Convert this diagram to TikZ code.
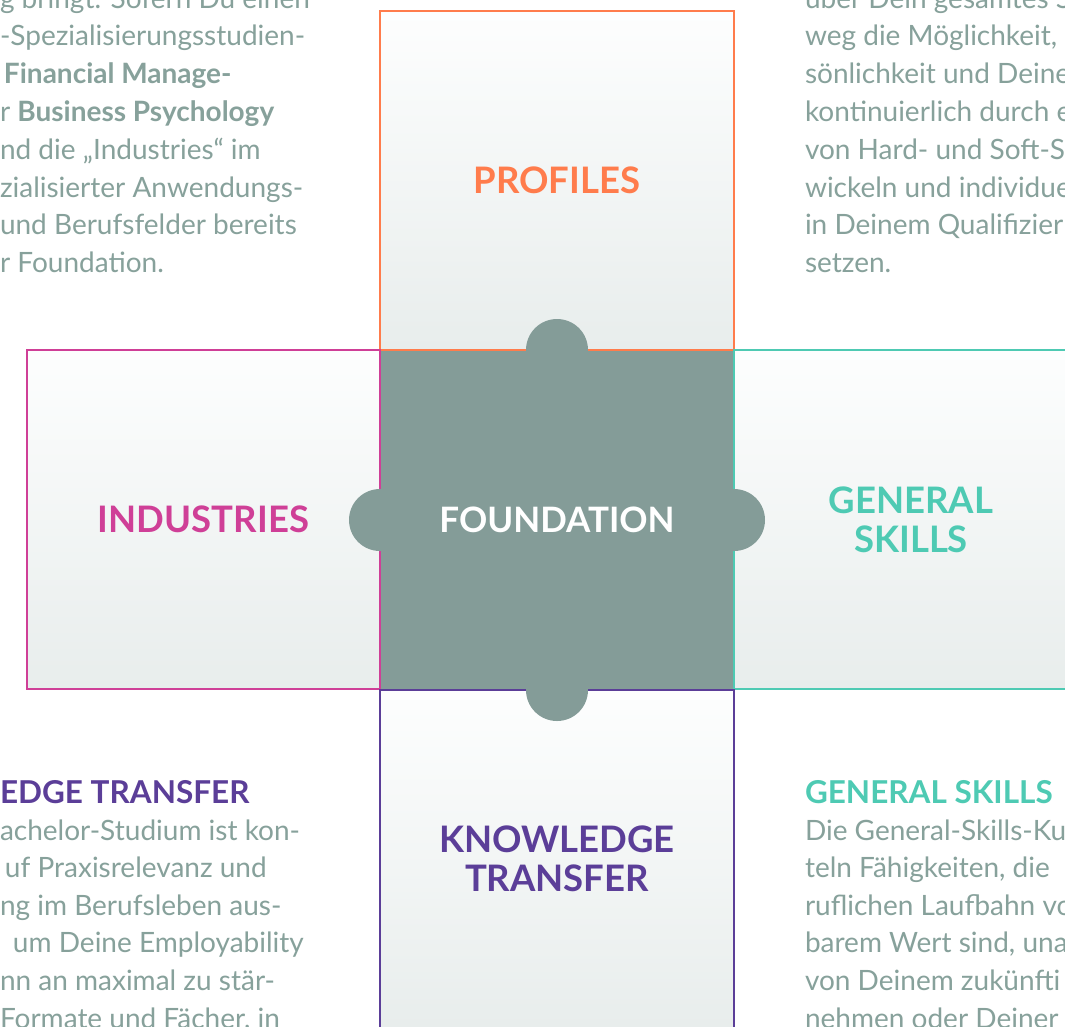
\documentclass[tikz,border=0pt]{standalone}
\usepackage{fontspec}
\setmainfont{Lato}
\definecolor{corange}{HTML}{FF7C4C}
\definecolor{cmagenta}{HTML}{CF3F97}
\definecolor{cteal}{HTML}{4ECAB3}
\definecolor{cpurple}{HTML}{5B3E98}
\definecolor{cfound}{HTML}{849C98}
\definecolor{ctext}{HTML}{87A19B}
\definecolor{gtop}{HTML}{FDFEFE}
\definecolor{gbot}{HTML}{E8EDEC}
\tikzset{
  box/.style={rectangle, inner sep=0pt, outer sep=0pt, line width=2.5pt,
    top color=gtop, bottom color=gbot, align=center,
    font=\fontsize{36.5}{39}\selectfont\bfseries},
  bodyline/.style={inner sep=0pt, outer sep=0pt, anchor=base west, text=ctext,
    font=\fontsize{28}{30}\selectfont},
  headline/.style={inner sep=0pt, outer sep=0pt, anchor=base west,
    font=\fontsize{31.5}{34}\selectfont\bfseries},
}
\begin{document}
\begin{tikzpicture}[x=1pt,y=-1pt]
\useasboundingbox (0,0) rectangle (1065,1026);
\fill[white] (0,0) rectangle (1065,1026);
\begin{scope}
\clip (0,0) rectangle (1065,1026);
% boxes
\node[box, draw=corange, text=corange, minimum width=354pt, minimum height=339pt] (profiles) at (557,180.5) {PROFILES};
\node[box, draw=cmagenta, text=cmagenta, minimum width=353pt, minimum height=339pt] (industries) at (203.5,519.5) {INDUSTRIES};
\node[box, draw=cteal, text=cteal, minimum width=354pt, minimum height=339pt] (skills) at (911,519.5) {GENERAL\\SKILLS};
\node[box, draw=cpurple, text=cpurple, minimum width=354pt, minimum height=338pt] (transfer) at (557,859) {KNOWLEDGE\\TRANSFER};
% foundation
\node[rectangle, fill=cfound, inner sep=0pt, outer sep=0pt, minimum width=351.5pt, minimum height=337.5pt,
  text=white, font=\fontsize{35}{39}\selectfont\bfseries] (found) at (557,520) {FOUNDATION};
\fill[cfound] (557,350) circle (31);
\fill[cfound] (557,690) circle (31);
\fill[cfound] (380,520) circle (31);
\fill[cfound] (734,520) circle (31);
% top-left text
\foreach \t [count=\i] in {g bringt. Sofern Du einen, -Spezialisierungsstudien-,
  {\hspace*{4pt}\textbf{Financial Manage-}}, {r \textbf{Business Psychology}},
  {nd die „Industries“ im}, zialisierter Anwendungs-, und Berufsfelder bereits, r Foundation.}
  \node[bodyline] (tl\i) at (0,8+37.8*\i-37.8) {\t};
% top-right text
\foreach \t [count=\i] in {über Dein gesamtes S, {weg die Möglichkeit, D}, sönlichkeit und Deine,
  kontinuierlich durch e, von Hard- und Soft-Sk, wickeln und individue, in Deinem Qualifizieru, setzen.}
  \node[bodyline] (tr\i) at (805,8+37.8*\i-37.8) {\t};
% bottom-left text
\node[headline, text=cpurple] (blh) at (0,803) {EDGE TRANSFER};
\foreach \t [count=\i] in {achelor-Studium ist kon-, {\hspace*{5pt}uf Praxisrelevanz und}, ng im Berufsleben aus-,
  {\hspace*{13pt}um Deine Employability}, nn an maximal zu stär-, {Formate und Fächer, in}}
  \node[bodyline] (bl\i) at (0,840+37.6*\i-37.6) {\t};
% bottom-right text
\node[headline, text=cteal] (brh) at (805,803) {GENERAL SKILLS};
\foreach \t [count=\i] in {Die General-Skills-Ku, {teln Fähigkeiten, die}, ruflichen Laufbahn vo,
  {barem Wert sind, una}, von Deinem zukünfti, nehmen oder Deiner}
  \node[bodyline] (br\i) at (805,840+37.6*\i-37.6) {\t};
\end{scope}
\end{tikzpicture}
\end{document}
